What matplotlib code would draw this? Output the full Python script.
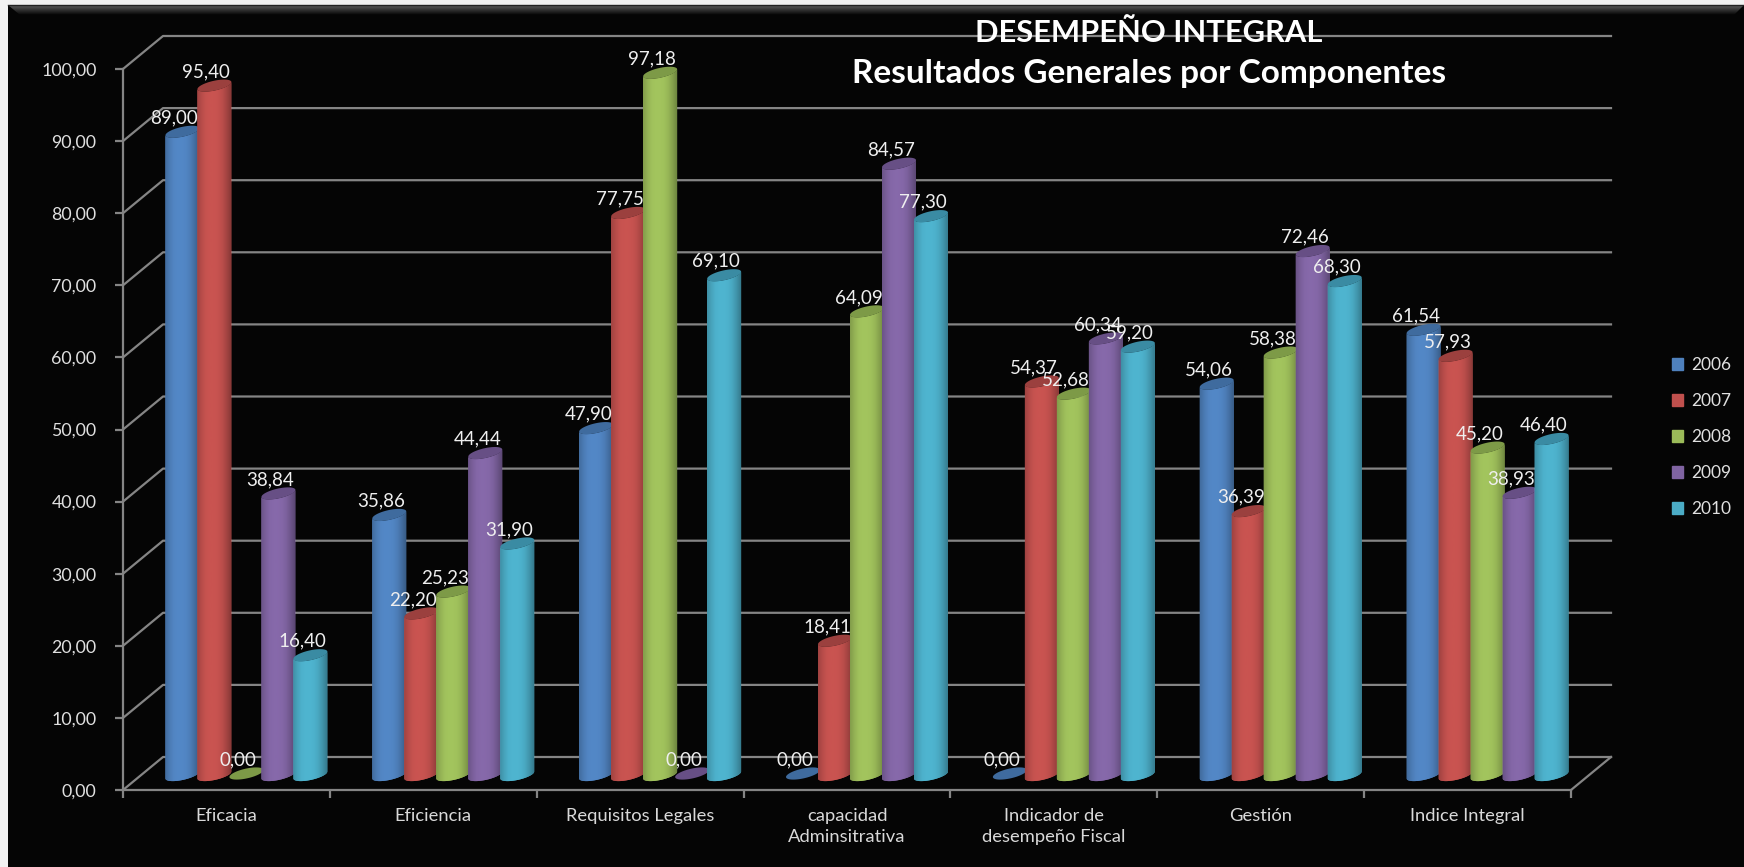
import matplotlib
matplotlib.use('Agg')
from matplotlib import pyplot as plt
from matplotlib.patches import Patch, Polygon, Rectangle
from matplotlib.colors import LinearSegmentedColormap
import numpy as np

plt.rcParams['font.family'] = ['Lato', 'DejaVu Sans']

categories = ['Eficacia', 'Eficiencia', 'Requisitos Legales', 'capacidad\nAdminsitrativa',
              'Indicador de\ndesempeño Fiscal', 'Gestión', 'Indice Integral']
years = ['2006', '2007', '2008', '2009', '2010']

v2006 = [89.00, 35.86, 47.90, 0.00, 0.00, 54.06, 61.54]
v2007 = [95.40, 22.20, 77.75, 18.41, 54.37, 36.39, 57.93]
v2008 = [0.00, 25.23, 97.18, 64.09, 52.68, 58.38, 45.20]
v2009 = [38.84, 44.44, 0.00, 84.57, 60.34, 72.46, 38.93]
v2010 = [16.40, 31.90, 69.10, 77.30, 59.20, 68.30, 46.40]
series = [v2006, v2007, v2008, v2009, v2010]

body_colors = ['#4f81bd', '#c0504d', '#9bbb59', '#8064a2', '#4bacc6']
top_colors = ['#3f6b9e', '#9b403e', '#7d9a47', '#674f85', '#3a8ba3']

W, H = 1744, 867
x0_px, x1_px = 123, 1571
y0_px, y100_px = 790, 69
px_x = 7 / (x1_px - x0_px)
px_y = 100 / (y0_px - y100_px)
depth_x, depth_y = 40 * px_x, 33 * px_y

fig = plt.figure(figsize=(W / 100, H / 100), dpi=100, facecolor='#f2f2f2')

# slide background with the bevel on top
bg = fig.add_axes([0, 0, 1, 1])
bg.set_xlim(0, W)
bg.set_ylim(H, 0)
bg.axis('off')
bg.add_patch(Rectangle((8, 5), W - 8, H - 5, color='#050505', lw=0))
bevel = np.linspace(0.36, 0.03, 10).reshape(-1, 1)
im = bg.imshow(bevel, extent=(8, W, 15, 5), cmap='gray', vmin=0, vmax=1, aspect='auto', zorder=2)
im.set_clip_path(Polygon([(8, 5), (W, 5), (W - 10, 15), (20, 15)], transform=bg.transData))
bg.plot([8, W], [5, 5], color='#222222', lw=1, zorder=3)
bg.set_xlim(0, W)
bg.set_ylim(H, 0)

ax = fig.add_axes([x0_px / W, 1 - y0_px / H, (x1_px - x0_px) / W, (y0_px - y100_px) / H])
ax.patch.set_alpha(0)
ax.set_xlim(0, 7)
ax.set_ylim(0, 100)

grid_color = '#858585'
for v in range(0, 101, 10):
    ax.plot([0, depth_x, 7 + depth_x], [v, v + depth_y, v + depth_y],
            color=grid_color, lw=1.6, clip_on=False, zorder=1)
ax.plot([7, 7 + depth_x], [0, depth_y], color=grid_color, lw=1.6, clip_on=False, zorder=1)

for s in ['top', 'right']:
    ax.spines[s].set_visible(False)
for s in ['left', 'bottom']:
    ax.spines[s].set_color(grid_color)
    ax.spines[s].set_linewidth(1.6)

ax.set_yticks(range(0, 101, 10))
ax.set_yticklabels([('%.2f' % v).replace('.', ',') for v in range(0, 101, 10)])
ax.set_xticks(range(8))
ax.set_xticklabels([])
ax.set_xticks(np.arange(7) + 0.5, categories, minor=True)
for lab in ax.get_xticklabels(minor=True):
    lab.set_linespacing(1.4)
ax.tick_params(axis='y', length=6, width=1.6, color=grid_color, labelcolor='#e0e0e0', labelsize=12.8, pad=13)
ax.tick_params(axis='x', which='major', length=6, width=1.6, color=grid_color)
ax.tick_params(axis='x', which='minor', length=0, labelcolor='#d9d9d9', labelsize=13.2, pad=13)


def ellipse(cx, cy, t):
    # skewed ellipse of the cylinder ends, in data units
    return (cx + 17 * px_x * np.cos(t),
            cy + (5 * np.sin(t) + 3.5 * np.cos(t)) * px_y)


bar_step = 32 * px_x
shade = [0.84, 0.95, 1.03, 1.05, 1.05, 1.03, 0.97, 0.86, 0.72]
z = 3
for i in range(len(categories)):
    for j, vals in enumerate(series):
        val = vals[i]
        cx = i + 0.5 + depth_x / 2 + (j - 2) * bar_step
        base = depth_y / 2 - 1.5 * px_y
        top = val + depth_y / 2
        z += 1
        if val > 0:
            t = np.linspace(np.pi, 2 * np.pi, 40)
            bx, by = ellipse(cx, base, t)
            tx, ty = ellipse(cx, top, t[::-1])
            shape = Polygon(np.r_[np.c_[bx, by], np.c_[tx, ty]], transform=ax.transData,
                            fc=body_colors[j], lw=0, clip_on=False, zorder=z)
            ax.add_patch(shape)
            rgb = np.array(matplotlib.colors.to_rgb(body_colors[j]))
            cmap = LinearSegmentedColormap.from_list('c', [np.clip(rgb * s, 0, 1) for s in shade])
            grad = ax.imshow(np.linspace(0, 1, 64).reshape(1, -1), cmap=cmap, aspect='auto',
                             extent=(cx - 17 * px_x, cx + 17 * px_x, 0, 100), zorder=z)
            grad.set_clip_path(shape)
        t = np.linspace(0, 2 * np.pi, 60)
        ex, ey = ellipse(cx, top, t)
        ax.fill(ex, ey, color=top_colors[j], lw=0, clip_on=False, zorder=z)

ax.set_xlim(0, 7)
ax.set_ylim(0, 100)

# data labels go above all the cylinders
for i in range(len(categories)):
    for j, vals in enumerate(series):
        cx = i + 0.5 + depth_x / 2 + (j - 2) * bar_step
        ax.text(cx - 8 * px_x, vals[i] + depth_y / 2 + 14 * px_y, ('%.2f' % vals[i]).replace('.', ','),
                ha='center', va='center', color='#efefef', fontsize=13.5, zorder=500, clip_on=False)

fig.text(1149 / W, 1 - 33 / H, 'DESEMPEÑO INTEGRAL', ha='center', va='center',
         color='white', fontsize=22.2, fontweight='bold', zorder=600)
fig.text(1149 / W, 1 - 74 / H, 'Resultados Generales por Componentes', ha='center', va='center',
         color='white', fontsize=24, fontweight='bold', zorder=600)

handles = [Patch(color=c, label=y) for c, y in zip(body_colors, years)]
fig.legend(handles=handles, loc='center left', bbox_to_anchor=(1656 / W, 1 - 437 / H), frameon=False,
           labelcolor='#e0e0e0', fontsize=12.5, handlelength=0.65, handleheight=0.65,
           handletextpad=0.45, labelspacing=1.15)

fig.savefig('out.png', dpi=100, facecolor=fig.get_facecolor())
